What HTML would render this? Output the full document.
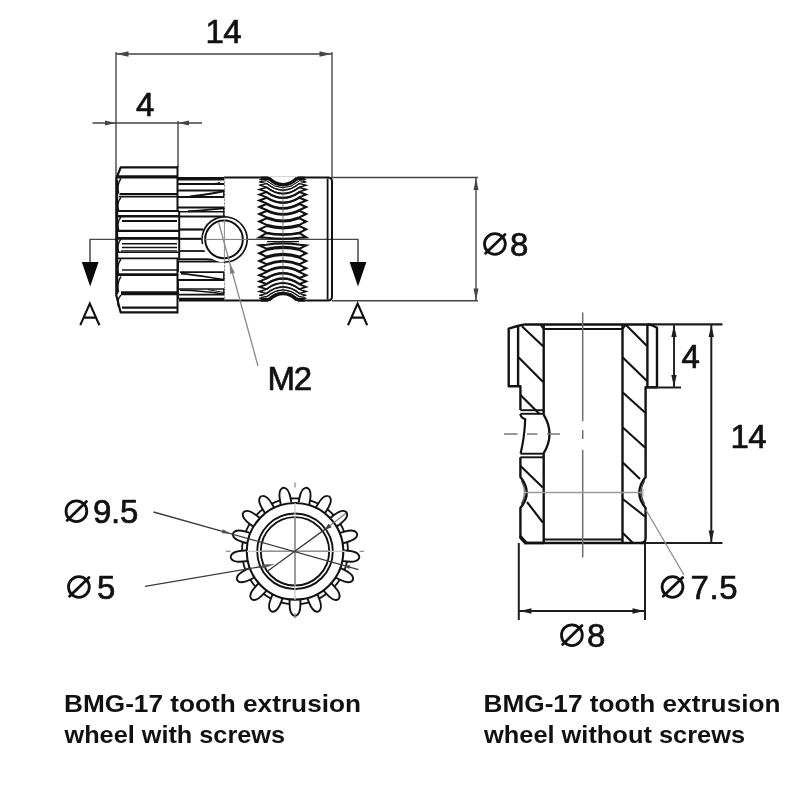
<!DOCTYPE html>
<html><head><meta charset="utf-8"><title>BMG-17 tooth extrusion wheel</title>
<style>
html,body{margin:0;padding:0;background:#fff;}
body{width:800px;height:800px;overflow:hidden;font-family:"Liberation Sans",sans-serif;}
svg{display:block;font-family:"Liberation Sans",sans-serif;filter:grayscale(1) blur(0.35px);}
</style></head><body>
<svg width="800" height="800" viewBox="0 0 800 800" stroke-linecap="butt" stroke-linejoin="round">
<rect width="800" height="800" fill="#ffffff"/>
<line x1="116.00" y1="52.00" x2="116.00" y2="178.00" stroke="#454545" stroke-width="1.4" />
<line x1="332.00" y1="52.00" x2="332.00" y2="178.00" stroke="#454545" stroke-width="1.4" />
<line x1="116.00" y1="54.00" x2="332.00" y2="54.00" stroke="#454545" stroke-width="1.4" />
<polygon points="116.50,54.00 128.50,51.20 128.50,56.80" fill="#454545"/>
<polygon points="331.50,54.00 319.50,56.80 319.50,51.20" fill="#454545"/>
<text x="205.5" y="42.5" font-size="33" font-weight="normal" letter-spacing="-0.5" text-anchor="start" fill="#111" stroke="#111" stroke-width="0.7" >14</text>
<line x1="178.00" y1="121.00" x2="178.00" y2="167.00" stroke="#454545" stroke-width="1.4" />
<line x1="92.50" y1="123.00" x2="202.00" y2="123.00" stroke="#454545" stroke-width="1.4" />
<polygon points="116.00,123.00 105.00,125.60 105.00,120.40" fill="#454545"/>
<polygon points="178.00,123.00 189.00,120.40 189.00,125.60" fill="#454545"/>
<text x="136" y="116" font-size="33" font-weight="normal" letter-spacing="0" text-anchor="start" fill="#111" stroke="#111" stroke-width="0.7" >4</text>
<line x1="332.00" y1="177.60" x2="478.00" y2="177.60" stroke="#454545" stroke-width="1.5" />
<line x1="332.00" y1="300.80" x2="478.00" y2="300.80" stroke="#454545" stroke-width="1.5" />
<line x1="476.00" y1="177.60" x2="476.00" y2="300.80" stroke="#454545" stroke-width="1.4" />
<polygon points="476.00,178.00 478.50,190.00 473.50,190.00" fill="#454545"/>
<polygon points="476.00,300.50 473.50,288.50 478.50,288.50" fill="#454545"/>
<circle cx="494.90" cy="244.00" r="10.4" fill="none" stroke="#111" stroke-width="2.8"/>
<line x1="485.60" y1="253.20" x2="505.00" y2="234.40" stroke="#111" stroke-width="2.8" stroke-linecap="round"/>
<text x="510" y="255.8" font-size="33" font-weight="normal" letter-spacing="0" text-anchor="start" fill="#111" stroke="#111" stroke-width="0.7" >8</text>
<line x1="90.00" y1="239.40" x2="358.00" y2="239.40" stroke="#454545" stroke-width="1.2" />
<line x1="90.00" y1="239.00" x2="90.00" y2="263.00" stroke="#454545" stroke-width="1.5" />
<line x1="358.00" y1="239.00" x2="358.00" y2="263.00" stroke="#454545" stroke-width="1.5" />
<polygon points="81.8,262 98.6,262 90.2,286.5" fill="#0a0a0a"/>
<polygon points="349.6,262 366.4,262 358,286.5" fill="#0a0a0a"/>
<path d="M80.3,325.2 L89.8,303.6 L99.4,325.2 M83.7,317.6 L96,317.6" stroke="#111" stroke-width="2.1" fill="none" stroke-linejoin="miter"/>
<path d="M348,325.2 L357.6,303.6 L367.2,325.2 M351.4,317.6 L363.8,317.6" stroke="#111" stroke-width="2.1" fill="none" stroke-linejoin="miter"/>
<path d="M177.5,167.3 L120.7,167.3 L116.3,178.5 L116.3,295.2 L120.7,312.4 L177.5,312.4" stroke="#121212" stroke-width="2.2" fill="none" />
<line x1="117.60" y1="180.00" x2="117.60" y2="294.00" stroke="#121212" stroke-width="1.2" />
<line x1="117.00" y1="176.90" x2="177.50" y2="176.90" stroke="#121212" stroke-width="3.4" />
<line x1="119.50" y1="194.00" x2="177.50" y2="194.00" stroke="#121212" stroke-width="1.8" />
<line x1="119.00" y1="196.60" x2="177.50" y2="196.60" stroke="#121212" stroke-width="1.8" />
<line x1="117.00" y1="211.00" x2="179.20" y2="211.00" stroke="#121212" stroke-width="2.0" />
<line x1="117.00" y1="216.20" x2="179.20" y2="216.20" stroke="#121212" stroke-width="2.4" />
<line x1="122.00" y1="221.00" x2="177.00" y2="221.00" stroke="#121212" stroke-width="1.8" />
<line x1="117.00" y1="230.80" x2="179.20" y2="230.80" stroke="#121212" stroke-width="2.2" />
<line x1="117.00" y1="238.10" x2="179.20" y2="238.10" stroke="#121212" stroke-width="2.0" />
<line x1="122.00" y1="243.70" x2="177.00" y2="243.70" stroke="#121212" stroke-width="1.5" />
<line x1="122.00" y1="247.50" x2="177.00" y2="247.50" stroke="#121212" stroke-width="1.5" />
<line x1="121.00" y1="250.90" x2="177.00" y2="250.90" stroke="#121212" stroke-width="1.4" />
<line x1="117.00" y1="252.30" x2="179.20" y2="252.30" stroke="#121212" stroke-width="1.6" />
<line x1="117.00" y1="258.30" x2="179.20" y2="258.30" stroke="#121212" stroke-width="1.8" />
<line x1="122.00" y1="270.00" x2="177.00" y2="270.00" stroke="#121212" stroke-width="1.5" />
<line x1="117.50" y1="274.70" x2="178.00" y2="274.70" stroke="#121212" stroke-width="2.8" />
<line x1="121.00" y1="293.20" x2="177.50" y2="293.20" stroke="#121212" stroke-width="3.9" />
<line x1="122.00" y1="307.60" x2="177.00" y2="307.60" stroke="#121212" stroke-width="2.2" />
<path d="M121,178.5 Q116.5,184.5 118.6,193.5" stroke="#121212" stroke-width="1.4" fill="none" />
<path d="M121,197.5 Q116.5,202.7 118.6,210.5" stroke="#121212" stroke-width="1.4" fill="none" />
<path d="M121,217 Q116.5,222.2 118.6,230" stroke="#121212" stroke-width="1.4" fill="none" />
<path d="M121,239 Q116.5,244.2 118.6,252" stroke="#121212" stroke-width="1.4" fill="none" />
<path d="M121,259 Q116.5,265.0 118.6,274" stroke="#121212" stroke-width="1.4" fill="none" />
<path d="M121,276.5 Q116.5,282.7 118.6,292" stroke="#121212" stroke-width="1.4" fill="none" />
<path d="M121,295 Q116.5,299.8 118.6,307" stroke="#121212" stroke-width="1.4" fill="none" />
<line x1="177.50" y1="166.20" x2="177.50" y2="211.00" stroke="#121212" stroke-width="2.0" />
<line x1="179.20" y1="211.00" x2="179.20" y2="258.30" stroke="#121212" stroke-width="2.0" />
<line x1="177.50" y1="258.30" x2="177.50" y2="313.40" stroke="#121212" stroke-width="2.0" />
<line x1="178.00" y1="178.80" x2="224.30" y2="178.80" stroke="#121212" stroke-width="3.5" />
<line x1="179.00" y1="299.60" x2="224.30" y2="299.60" stroke="#121212" stroke-width="3.8" />
<line x1="178.00" y1="184.00" x2="224.30" y2="184.00" stroke="#121212" stroke-width="2.0" />
<line x1="178.00" y1="190.50" x2="224.30" y2="190.50" stroke="#121212" stroke-width="2.0" />
<line x1="178.00" y1="197.00" x2="224.30" y2="197.00" stroke="#121212" stroke-width="2.0" />
<line x1="178.00" y1="207.50" x2="224.30" y2="207.50" stroke="#121212" stroke-width="2.0" />
<line x1="180.00" y1="211.70" x2="224.30" y2="211.70" stroke="#121212" stroke-width="1.6" />
<line x1="180.00" y1="216.50" x2="224.30" y2="216.50" stroke="#121212" stroke-width="2.0" />
<line x1="180.00" y1="229.50" x2="203.50" y2="229.50" stroke="#121212" stroke-width="2.2" />
<line x1="180.00" y1="238.60" x2="202.00" y2="238.60" stroke="#121212" stroke-width="1.6" />
<line x1="180.00" y1="251.00" x2="206.50" y2="251.00" stroke="#121212" stroke-width="1.8" />
<line x1="178.00" y1="261.60" x2="224.30" y2="261.60" stroke="#121212" stroke-width="1.8" />
<line x1="180.00" y1="272.20" x2="224.30" y2="272.20" stroke="#121212" stroke-width="1.8" />
<line x1="178.00" y1="280.00" x2="224.30" y2="280.00" stroke="#121212" stroke-width="1.8" />
<line x1="179.00" y1="289.00" x2="224.30" y2="289.00" stroke="#121212" stroke-width="1.6" />
<line x1="179.00" y1="294.60" x2="224.30" y2="294.60" stroke="#121212" stroke-width="1.6" />
<path d="M224.3,191.3 C214,193 205,195.5 190,196.4" stroke="#121212" stroke-width="2.0" fill="none" />
<path d="M218.3,182.2 Q223.3,183 212.3,183.6" stroke="#121212" stroke-width="1.0" fill="none" />
<path d="M224.3,208.3 C212,209.5 203,210.6 188,211.2" stroke="#121212" stroke-width="1.9" fill="none" />
<path d="M178,259.2 L206,259.3 Q216,259.6 224.3,261.6" stroke="#121212" stroke-width="1.9" fill="none" />
<path d="M181,273.6 C198,275 212,278 224.3,279.6" stroke="#121212" stroke-width="1.6" fill="none" />
<path d="M180,290.2 C198,290.4 212,292 224.3,294.2" stroke="#121212" stroke-width="1.4" fill="none" />
<path d="M208,289.6 L224.3,292.6" stroke="#121212" stroke-width="1.0" fill="none" />
<line x1="224.00" y1="190.50" x2="224.00" y2="197.00" stroke="#121212" stroke-width="1.8" />
<line x1="224.00" y1="207.50" x2="224.00" y2="216.50" stroke="#121212" stroke-width="1.8" />
<line x1="224.00" y1="272.20" x2="224.00" y2="280.00" stroke="#121212" stroke-width="1.8" />
<line x1="224.00" y1="289.00" x2="224.00" y2="294.60" stroke="#121212" stroke-width="1.8" />
<line x1="178.00" y1="261.00" x2="178.00" y2="272.00" stroke="#121212" stroke-width="1.8" />
<line x1="178.00" y1="280.00" x2="178.00" y2="299.00" stroke="#121212" stroke-width="1.8" />
<path d="M224,177.6 L328,177.6 Q332,177.6 332,181.6 L332,296.6 Q332,300.6 328,300.6 L224,300.6" stroke="#121212" stroke-width="2.0" fill="none" />
<line x1="327.60" y1="178.60" x2="327.60" y2="299.60" stroke="#121212" stroke-width="1.8" />
<line x1="224.60" y1="177.60" x2="224.60" y2="300.60" stroke="#8a8a8a" stroke-width="1.0" stroke-dasharray="2.5 1"/>
<rect x="260.8" y="176.6" width="43.89999999999998" height="3.6" fill="#121212"/>
<rect x="260.8" y="298.0" width="43.89999999999998" height="3.6" fill="#121212"/>
<polygon points="258.70,179.60 262.30,178.76 262.30,180.44" fill="#121212"/>
<polygon points="306.80,179.60 303.20,178.76 303.20,180.44" fill="#121212"/>
<path d="M259.3,179.60 L266.5,178.89 Q283,193.40 299.5,178.89 L306.2,179.60 L299.5,180.56 Q283,194.72 266.5,180.56 Z" stroke="#121212" stroke-width="0.62" fill="none" stroke-linejoin="miter"/>
<polygon points="258.70,181.93 262.30,180.83 262.30,183.03" fill="#121212"/>
<polygon points="306.80,181.93 303.20,180.83 303.20,183.03" fill="#121212"/>
<path d="M259.3,181.93 L266.5,180.75 Q283,194.87 299.5,180.75 L306.2,181.93 L299.5,183.35 Q283,196.92 266.5,183.35 Z" stroke="#121212" stroke-width="0.96" fill="none" stroke-linejoin="miter"/>
<polygon points="258.70,185.24 262.30,184.14 262.30,186.34" fill="#121212"/>
<polygon points="306.80,185.24 303.20,184.14 303.20,186.34" fill="#121212"/>
<path d="M259.3,185.24 L266.5,183.61 Q283,197.13 299.5,183.61 L306.2,185.24 L299.5,187.09 Q283,199.88 266.5,187.09 Z" stroke="#121212" stroke-width="1.29" fill="none" stroke-linejoin="miter"/>
<polygon points="258.70,189.48 262.30,188.38 262.30,190.58" fill="#121212"/>
<polygon points="306.80,189.48 303.20,188.38 303.20,190.58" fill="#121212"/>
<path d="M259.3,189.48 L266.5,187.43 Q283,200.15 299.5,187.43 L306.2,189.48 L299.5,191.73 Q283,203.54 266.5,191.73 Z" stroke="#121212" stroke-width="1.59" fill="none" stroke-linejoin="miter"/>
<polygon points="258.70,194.57 262.30,193.47 262.30,195.67" fill="#121212"/>
<polygon points="306.80,194.57 303.20,193.47 303.20,195.67" fill="#121212"/>
<path d="M259.3,194.57 L266.5,192.14 Q283,203.86 299.5,192.14 L306.2,194.57 L299.5,197.19 Q283,207.85 266.5,197.19 Z" stroke="#121212" stroke-width="1.87" fill="none" stroke-linejoin="miter"/>
<polygon points="258.70,200.43 262.30,199.33 262.30,201.53" fill="#121212"/>
<polygon points="306.80,200.43 303.20,199.33 303.20,201.53" fill="#121212"/>
<path d="M259.3,200.43 L266.5,197.66 Q283,208.23 299.5,197.66 L306.2,200.43 L299.5,203.36 Q283,212.73 266.5,203.36 Z" stroke="#121212" stroke-width="2.1" fill="none" stroke-linejoin="miter"/>
<polygon points="258.70,206.95 262.30,205.85 262.30,208.05" fill="#121212"/>
<polygon points="306.80,206.95 303.20,205.85 303.20,208.05" fill="#121212"/>
<path d="M259.3,206.95 L266.5,204.00 Q283,213.23 299.5,204.00 L306.2,206.95 L299.5,210.05 Q283,218.01 266.5,210.05 Z" stroke="#121212" stroke-width="2.1" fill="none" stroke-linejoin="miter"/>
<polygon points="258.70,214.04 262.30,212.94 262.30,215.14" fill="#121212"/>
<polygon points="306.80,214.04 303.20,212.94 303.20,215.14" fill="#121212"/>
<path d="M259.3,214.04 L266.5,210.92 Q283,218.70 299.5,210.92 L306.2,214.04 L299.5,217.26 Q283,223.71 266.5,217.26 Z" stroke="#121212" stroke-width="2.1" fill="none" stroke-linejoin="miter"/>
<polygon points="258.70,221.55 262.30,220.45 262.30,222.65" fill="#121212"/>
<polygon points="306.80,221.55 303.20,220.45 303.20,222.65" fill="#121212"/>
<path d="M259.3,221.55 L266.5,218.31 Q283,224.54 299.5,218.31 L306.2,221.55 L299.5,224.87 Q283,229.72 266.5,224.87 Z" stroke="#121212" stroke-width="2.1" fill="none" stroke-linejoin="miter"/>
<polygon points="258.70,229.37 262.30,228.27 262.30,230.47" fill="#121212"/>
<polygon points="306.80,229.37 303.20,228.27 303.20,230.47" fill="#121212"/>
<path d="M259.3,229.37 L266.5,226.05 Q283,230.65 299.5,226.05 L306.2,229.37 L299.5,232.74 Q283,235.94 266.5,232.74 Z" stroke="#121212" stroke-width="2.1" fill="none" stroke-linejoin="miter"/>
<polygon points="258.70,237.36 262.30,236.26 262.30,238.46" fill="#121212"/>
<polygon points="306.80,237.36 303.20,236.26 303.20,238.46" fill="#121212"/>
<path d="M259.3,237.36 L266.5,233.20 Q283,236.30 299.5,233.20 L306.2,237.36 L299.5,237.70 Q283,239.86 266.5,237.70 Z" stroke="#121212" stroke-width="2.1" fill="none" stroke-linejoin="miter"/>
<polygon points="258.70,245.39 262.30,244.29 262.30,246.49" fill="#121212"/>
<polygon points="306.80,245.39 303.20,244.29 303.20,246.49" fill="#121212"/>
<path d="M259.3,245.39 L266.5,244.80 Q283,241.87 299.5,244.80 L306.2,245.39 L299.5,248.75 Q283,244.98 266.5,248.75 Z" stroke="#121212" stroke-width="2.1" fill="none" stroke-linejoin="miter"/>
<polygon points="258.70,253.32 262.30,252.22 262.30,254.42" fill="#121212"/>
<polygon points="306.80,253.32 303.20,252.22 303.20,254.42" fill="#121212"/>
<path d="M259.3,253.32 L266.5,249.97 Q283,245.95 299.5,249.97 L306.2,253.32 L299.5,256.61 Q283,251.19 266.5,256.61 Z" stroke="#121212" stroke-width="2.1" fill="none" stroke-linejoin="miter"/>
<polygon points="258.70,261.00 262.30,259.90 262.30,262.10" fill="#121212"/>
<polygon points="306.80,261.00 303.20,259.90 303.20,262.10" fill="#121212"/>
<path d="M259.3,261.00 L266.5,257.73 Q283,252.08 299.5,257.73 L306.2,261.00 L299.5,264.19 Q283,257.18 266.5,264.19 Z" stroke="#121212" stroke-width="2.1" fill="none" stroke-linejoin="miter"/>
<polygon points="258.70,268.32 262.30,267.22 262.30,269.42" fill="#121212"/>
<polygon points="306.80,268.32 303.20,267.22 303.20,269.42" fill="#121212"/>
<path d="M259.3,268.32 L266.5,265.15 Q283,257.95 299.5,265.15 L306.2,268.32 L299.5,271.36 Q283,262.85 266.5,271.36 Z" stroke="#121212" stroke-width="2.1" fill="none" stroke-linejoin="miter"/>
<polygon points="258.70,275.14 262.30,274.04 262.30,276.24" fill="#121212"/>
<polygon points="306.80,275.14 303.20,274.04 303.20,276.24" fill="#121212"/>
<path d="M259.3,275.14 L266.5,272.12 Q283,263.45 299.5,272.12 L306.2,275.14 L299.5,278.01 Q283,268.10 266.5,278.01 Z" stroke="#121212" stroke-width="2.1" fill="none" stroke-linejoin="miter"/>
<polygon points="258.70,281.35 262.30,280.25 262.30,282.45" fill="#121212"/>
<polygon points="306.80,281.35 303.20,280.25 303.20,282.45" fill="#121212"/>
<path d="M259.3,281.35 L266.5,278.57 Q283,268.54 299.5,278.57 L306.2,281.35 L299.5,283.96 Q283,272.80 266.5,283.96 Z" stroke="#121212" stroke-width="1.99" fill="none" stroke-linejoin="miter"/>
<polygon points="258.70,286.85 262.30,285.75 262.30,287.95" fill="#121212"/>
<polygon points="306.80,286.85 303.20,285.75 303.20,287.95" fill="#121212"/>
<path d="M259.3,286.85 L266.5,284.40 Q283,273.15 299.5,284.40 L306.2,286.85 L299.5,289.09 Q283,276.85 266.5,289.09 Z" stroke="#121212" stroke-width="1.73" fill="none" stroke-linejoin="miter"/>
<polygon points="258.70,291.53 262.30,290.43 262.30,292.63" fill="#121212"/>
<polygon points="306.80,291.53 303.20,290.43 303.20,292.63" fill="#121212"/>
<path d="M259.3,291.53 L266.5,289.46 Q283,277.15 299.5,289.46 L306.2,291.53 L299.5,293.37 Q283,280.23 266.5,293.37 Z" stroke="#121212" stroke-width="1.44" fill="none" stroke-linejoin="miter"/>
<polygon points="258.70,295.32 262.30,294.22 262.30,296.42" fill="#121212"/>
<polygon points="306.80,295.32 303.20,294.22 303.20,296.42" fill="#121212"/>
<path d="M259.3,295.32 L266.5,293.67 Q283,280.47 299.5,293.67 L306.2,295.32 L299.5,296.72 Q283,282.88 266.5,296.72 Z" stroke="#121212" stroke-width="1.13" fill="none" stroke-linejoin="miter"/>
<polygon points="258.70,298.15 262.30,297.07 262.30,299.22" fill="#121212"/>
<polygon points="306.80,298.15 303.20,297.07 303.20,299.22" fill="#121212"/>
<path d="M259.3,298.15 L266.5,296.95 Q283,283.06 299.5,296.95 L306.2,298.15 L299.5,299.10 Q283,284.76 266.5,299.10 Z" stroke="#121212" stroke-width="0.79" fill="none" stroke-linejoin="miter"/>
<line x1="267.00" y1="241.60" x2="299.00" y2="241.60" stroke="#121212" stroke-width="1.3" />
<path d="M267.5,176.2 L270,177.6 Q283,189.1 296,177.6 L298.5,176.2 Z" stroke="none" stroke-width="0" fill="#fff" />
<path d="M269,178.2 Q283,191.1 297,178.2" stroke="#121212" stroke-width="3.2" fill="none" />
<path d="M267.5,302.0 L270,300.6 Q283,289.1 296,300.6 L298.5,302.0 Z" stroke="none" stroke-width="0" fill="#fff" />
<path d="M269,300.0 Q283,287.1 297,300.0" stroke="#121212" stroke-width="3.2" fill="none" />
<line x1="283.00" y1="185.60" x2="283.00" y2="292.60" stroke="#555" stroke-width="0.8" />
<circle cx="224.6" cy="239.4" r="23" fill="#fff" stroke="none"/>
<path d="M202.34,235.48 A22.6,22.6 0 1 1 223.81,261.99" stroke="#121212" stroke-width="1.7" fill="none" />
<path d="M202.34,235.48 A22.6,22.6 0 0 0 202.49,244.10" stroke="#121212" stroke-width="1.5" fill="none" />
<circle cx="224" cy="239.4" r="18.8" fill="#fff" stroke="#121212" stroke-width="2.0"/>
<line x1="205.00" y1="239.40" x2="248.00" y2="239.40" stroke="#777" stroke-width="1.0" />
<line x1="224.40" y1="220.00" x2="224.40" y2="262.00" stroke="#8a8a8a" stroke-width="1.0" />
<line x1="218.50" y1="222.00" x2="258.00" y2="366.00" stroke="#8a8a8a" stroke-width="1.3" />
<polygon points="229.70,263.30 234.88,272.77 230.06,274.09" fill="#808080"/>
<text x="267.5" y="389.6" font-size="33" font-weight="normal" letter-spacing="-1.2" text-anchor="start" fill="#111" stroke="#111" stroke-width="0.7" >M2</text>
<line x1="525.00" y1="324.40" x2="648.00" y2="324.40" stroke="#121212" stroke-width="2.5" />
<line x1="648.00" y1="324.40" x2="722.50" y2="324.40" stroke="#1e1e1e" stroke-width="2.1" />
<line x1="645.00" y1="543.00" x2="722.50" y2="543.00" stroke="#1e1e1e" stroke-width="2.1" />
<path d="M525,324.4 L517.5,326 L508.7,328.6 L508.7,386.3 L520.4,386.3 L520.4,410" stroke="#121212" stroke-width="2.4" fill="none" />
<line x1="518.10" y1="326.00" x2="518.10" y2="386.30" stroke="#121212" stroke-width="2.4" />
<path d="M520.4,457.3 L520.4,477 Q533,492.5 520.4,508 L520.4,538 L525,543 L543.5,543" stroke="#121212" stroke-width="2.4" fill="none" />
<path d="M521.3,480.5 Q528.2,492.5 521.3,504.5" stroke="#444" stroke-width="1.3" fill="none" />
<line x1="543.70" y1="324.40" x2="543.70" y2="414.00" stroke="#121212" stroke-width="2.4" />
<line x1="543.70" y1="453.50" x2="543.70" y2="543.00" stroke="#121212" stroke-width="2.4" />
<line x1="622.50" y1="324.40" x2="622.50" y2="543.00" stroke="#121212" stroke-width="2.4" />
<path d="M540.2,324.4 L543.4,328.8" stroke="#121212" stroke-width="1.8" fill="none" />
<path d="M626,324.4 L622.8,328.8" stroke="#121212" stroke-width="1.8" fill="none" />
<line x1="543.70" y1="329.10" x2="622.50" y2="329.10" stroke="#121212" stroke-width="2.0" />
<line x1="543.70" y1="539.40" x2="622.50" y2="539.40" stroke="#121212" stroke-width="2.0" />
<line x1="524.00" y1="543.00" x2="645.00" y2="543.00" stroke="#121212" stroke-width="2.5" />
<line x1="520.40" y1="410.20" x2="544.00" y2="410.20" stroke="#121212" stroke-width="1.9" />
<line x1="520.40" y1="413.80" x2="544.00" y2="413.80" stroke="#121212" stroke-width="1.9" />
<line x1="520.40" y1="453.70" x2="544.00" y2="453.70" stroke="#121212" stroke-width="1.9" />
<line x1="520.40" y1="457.30" x2="544.00" y2="457.30" stroke="#121212" stroke-width="1.9" />
<path d="M520.4,414 Q520.8,418 525.2,419 Q524.6,437 520.6,453.5" stroke="#121212" stroke-width="2.2" fill="none" />
<path d="M543.5,414.3 Q555.5,434 543.5,453.5" stroke="#121212" stroke-width="2.3" fill="none" />
<path d="M648,324.4 L652,325.2 L657,327.8 L657,387.3 L645.6,387.3 L645.6,477 Q633,492.5 645.6,508 L645.6,538 Q645.6,543 641,543" stroke="#121212" stroke-width="2.4" fill="none" />
<line x1="647.40" y1="325.00" x2="647.40" y2="387.30" stroke="#121212" stroke-width="2.4" />
<path d="M644.7,480.5 Q637.8,492.5 644.7,504.5" stroke="#444" stroke-width="1.3" fill="none" />
<line x1="646.00" y1="387.40" x2="681.00" y2="387.40" stroke="#1e1e1e" stroke-width="2.0" />
<line x1="521.90" y1="326.20" x2="543.10" y2="346.20" stroke="#121212" stroke-width="2.1" />
<line x1="518.70" y1="357.50" x2="543.10" y2="381.90" stroke="#121212" stroke-width="2.1" />
<line x1="520.50" y1="395.00" x2="539.50" y2="414.00" stroke="#121212" stroke-width="2.1" />
<line x1="520.50" y1="466.00" x2="542.80" y2="487.50" stroke="#121212" stroke-width="2.1" />
<line x1="527.00" y1="502.00" x2="542.80" y2="522.50" stroke="#121212" stroke-width="2.1" />
<line x1="520.00" y1="535.50" x2="526.50" y2="542.50" stroke="#121212" stroke-width="2.1" />
<line x1="626.00" y1="325.00" x2="647.00" y2="346.00" stroke="#121212" stroke-width="2.1" />
<line x1="622.80" y1="357.50" x2="647.00" y2="381.00" stroke="#121212" stroke-width="2.1" />
<line x1="622.80" y1="392.50" x2="645.00" y2="412.50" stroke="#121212" stroke-width="2.1" />
<line x1="622.80" y1="427.50" x2="645.00" y2="447.50" stroke="#121212" stroke-width="2.1" />
<line x1="622.80" y1="462.50" x2="640.00" y2="479.00" stroke="#121212" stroke-width="2.1" />
<line x1="622.80" y1="499.00" x2="645.00" y2="516.50" stroke="#121212" stroke-width="2.1" />
<line x1="622.80" y1="533.00" x2="632.50" y2="542.50" stroke="#121212" stroke-width="2.1" />
<line x1="582.70" y1="312.50" x2="582.70" y2="557.50" stroke="#707070" stroke-width="1.5" stroke-dasharray="108.5 9 9 11 200"/>
<line x1="504.00" y1="434.00" x2="560.00" y2="434.00" stroke="#777" stroke-width="1.6" stroke-dasharray="13.5 9.5 10.5 9.5 13 100"/>
<line x1="524.00" y1="492.50" x2="643.00" y2="492.50" stroke="#9a9a9a" stroke-width="1.5" />
<line x1="524.00" y1="488.50" x2="524.00" y2="496.50" stroke="#bbb" stroke-width="1.2" />
<line x1="643.00" y1="488.50" x2="643.00" y2="496.50" stroke="#bbb" stroke-width="1.2" />
<line x1="646.00" y1="510.00" x2="684.00" y2="575.00" stroke="#8c8c8c" stroke-width="1.3" />
<circle cx="672.50" cy="587.00" r="10.4" fill="none" stroke="#111" stroke-width="2.8"/>
<line x1="663.20" y1="596.20" x2="682.60" y2="577.40" stroke="#111" stroke-width="2.8" stroke-linecap="round"/>
<text x="690.6" y="598.8" font-size="33" font-weight="normal" letter-spacing="0.6" text-anchor="start" fill="#111" stroke="#111" stroke-width="0.7" >7.5</text>
<line x1="674.00" y1="324.40" x2="674.00" y2="387.00" stroke="#1e1e1e" stroke-width="1.9" />
<polygon points="674.00,324.90 676.70,336.90 671.30,336.90" fill="#1e1e1e"/>
<polygon points="674.00,387.00 671.30,375.00 676.70,375.00" fill="#1e1e1e"/>
<text x="681.5" y="368" font-size="33" font-weight="normal" letter-spacing="0" text-anchor="start" fill="#111" stroke="#111" stroke-width="0.7" >4</text>
<line x1="711.30" y1="324.40" x2="711.30" y2="543.00" stroke="#1e1e1e" stroke-width="2.0" />
<polygon points="711.30,324.90 714.00,336.90 708.60,336.90" fill="#1e1e1e"/>
<polygon points="711.30,542.50 708.60,530.50 714.00,530.50" fill="#1e1e1e"/>
<text x="730.5" y="448" font-size="33" font-weight="normal" letter-spacing="-0.5" text-anchor="start" fill="#111" stroke="#111" stroke-width="0.7" >14</text>
<line x1="518.80" y1="543.00" x2="518.80" y2="620.00" stroke="#1e1e1e" stroke-width="2.0" />
<line x1="645.00" y1="543.00" x2="645.00" y2="620.00" stroke="#1e1e1e" stroke-width="2.0" />
<line x1="519.00" y1="611.00" x2="645.00" y2="611.00" stroke="#1e1e1e" stroke-width="1.9" />
<polygon points="519.50,611.00 531.50,608.30 531.50,613.70" fill="#1e1e1e"/>
<polygon points="644.50,611.00 632.50,613.70 632.50,608.30" fill="#1e1e1e"/>
<circle cx="571.90" cy="635.20" r="10.4" fill="none" stroke="#111" stroke-width="2.8"/>
<line x1="562.60" y1="644.40" x2="582.00" y2="625.60" stroke="#111" stroke-width="2.8" stroke-linecap="round"/>
<text x="587" y="647" font-size="33" font-weight="normal" letter-spacing="0" text-anchor="start" fill="#111" stroke="#111" stroke-width="0.7" >8</text>
<g transform="translate(295,551.3) rotate(90.000)"><path d="M48.5,-5.4 L53,-5.4 C59.3,-5.4 63,-4.0 64.2,-1.5 Q65,0 64.2,1.5 C63,4.0 59.3,5.4 53,5.4 L48.5,5.4" fill="#fff" stroke="#121212" stroke-width="1.9"/></g>
<path d="M289.74,604.04 A53.0,53.0 0 0 1 280.86,602.38" fill="none" stroke="#121212" stroke-width="1.8"/>
<g transform="translate(295,551.3) rotate(111.176)"><path d="M48.5,-5.4 L53,-5.4 C59.3,-5.4 63,-4.0 64.2,-1.5 Q65,0 64.2,1.5 C63,4.0 59.3,5.4 53,5.4 L48.5,5.4" fill="#fff" stroke="#121212" stroke-width="1.9"/></g>
<path d="M271.04,598.58 A53.0,53.0 0 0 1 263.36,593.82" fill="none" stroke="#121212" stroke-width="1.8"/>
<g transform="translate(295,551.3) rotate(132.353)"><path d="M48.5,-5.4 L53,-5.4 C59.3,-5.4 63,-4.0 64.2,-1.5 Q65,0 64.2,1.5 C63,4.0 59.3,5.4 53,5.4 L48.5,5.4" fill="#fff" stroke="#121212" stroke-width="1.9"/></g>
<path d="M255.58,586.73 A53.0,53.0 0 0 1 250.14,579.52" fill="none" stroke="#121212" stroke-width="1.8"/>
<g transform="translate(295,551.3) rotate(153.529)"><path d="M48.5,-5.4 L53,-5.4 C59.3,-5.4 63,-4.0 64.2,-1.5 Q65,0 64.2,1.5 C63,4.0 59.3,5.4 53,5.4 L48.5,5.4" fill="#fff" stroke="#121212" stroke-width="1.9"/></g>
<path d="M245.44,570.10 A53.0,53.0 0 0 1 242.97,561.41" fill="none" stroke="#121212" stroke-width="1.8"/>
<g transform="translate(295,551.3) rotate(174.706)"><path d="M48.5,-5.4 L53,-5.4 C59.3,-5.4 63,-4.0 64.2,-1.5 Q65,0 64.2,1.5 C63,4.0 59.3,5.4 53,5.4 L48.5,5.4" fill="#fff" stroke="#121212" stroke-width="1.9"/></g>
<path d="M242.00,550.92 A53.0,53.0 0 0 1 242.83,541.93" fill="none" stroke="#121212" stroke-width="1.8"/>
<g transform="translate(295,551.3) rotate(195.882)"><path d="M48.5,-5.4 L53,-5.4 C59.3,-5.4 63,-4.0 64.2,-1.5 Q65,0 64.2,1.5 C63,4.0 59.3,5.4 53,5.4 L48.5,5.4" fill="#fff" stroke="#121212" stroke-width="1.9"/></g>
<path d="M245.72,531.80 A53.0,53.0 0 0 1 249.74,523.72" fill="none" stroke="#121212" stroke-width="1.8"/>
<g transform="translate(295,551.3) rotate(217.059)"><path d="M48.5,-5.4 L53,-5.4 C59.3,-5.4 63,-4.0 64.2,-1.5 Q65,0 64.2,1.5 C63,4.0 59.3,5.4 53,5.4 L48.5,5.4" fill="#fff" stroke="#121212" stroke-width="1.9"/></g>
<path d="M256.09,515.32 A53.0,53.0 0 0 1 262.76,509.23" fill="none" stroke="#121212" stroke-width="1.8"/>
<g transform="translate(295,551.3) rotate(238.235)"><path d="M48.5,-5.4 L53,-5.4 C59.3,-5.4 63,-4.0 64.2,-1.5 Q65,0 64.2,1.5 C63,4.0 59.3,5.4 53,5.4 L48.5,5.4" fill="#fff" stroke="#121212" stroke-width="1.9"/></g>
<path d="M271.71,503.69 A53.0,53.0 0 0 1 280.14,500.43" fill="none" stroke="#121212" stroke-width="1.8"/>
<g transform="translate(295,551.3) rotate(259.412)"><path d="M48.5,-5.4 L53,-5.4 C59.3,-5.4 63,-4.0 64.2,-1.5 Q65,0 64.2,1.5 C63,4.0 59.3,5.4 53,5.4 L48.5,5.4" fill="#fff" stroke="#121212" stroke-width="1.9"/></g>
<path d="M290.48,498.49 A53.0,53.0 0 0 1 299.52,498.49" fill="none" stroke="#121212" stroke-width="1.8"/>
<g transform="translate(295,551.3) rotate(280.588)"><path d="M48.5,-5.4 L53,-5.4 C59.3,-5.4 63,-4.0 64.2,-1.5 Q65,0 64.2,1.5 C63,4.0 59.3,5.4 53,5.4 L48.5,5.4" fill="#fff" stroke="#121212" stroke-width="1.9"/></g>
<path d="M309.86,500.43 A53.0,53.0 0 0 1 318.29,503.69" fill="none" stroke="#121212" stroke-width="1.8"/>
<g transform="translate(295,551.3) rotate(301.765)"><path d="M48.5,-5.4 L53,-5.4 C59.3,-5.4 63,-4.0 64.2,-1.5 Q65,0 64.2,1.5 C63,4.0 59.3,5.4 53,5.4 L48.5,5.4" fill="#fff" stroke="#121212" stroke-width="1.9"/></g>
<path d="M327.24,509.23 A53.0,53.0 0 0 1 333.91,515.32" fill="none" stroke="#121212" stroke-width="1.8"/>
<g transform="translate(295,551.3) rotate(322.941)"><path d="M48.5,-5.4 L53,-5.4 C59.3,-5.4 63,-4.0 64.2,-1.5 Q65,0 64.2,1.5 C63,4.0 59.3,5.4 53,5.4 L48.5,5.4" fill="#fff" stroke="#121212" stroke-width="1.9"/></g>
<path d="M340.26,523.72 A53.0,53.0 0 0 1 344.28,531.80" fill="none" stroke="#121212" stroke-width="1.8"/>
<g transform="translate(295,551.3) rotate(344.118)"><path d="M48.5,-5.4 L53,-5.4 C59.3,-5.4 63,-4.0 64.2,-1.5 Q65,0 64.2,1.5 C63,4.0 59.3,5.4 53,5.4 L48.5,5.4" fill="#fff" stroke="#121212" stroke-width="1.9"/></g>
<path d="M347.17,541.93 A53.0,53.0 0 0 1 348.00,550.92" fill="none" stroke="#121212" stroke-width="1.8"/>
<g transform="translate(295,551.3) rotate(365.294)"><path d="M48.5,-5.4 L53,-5.4 C59.3,-5.4 63,-4.0 64.2,-1.5 Q65,0 64.2,1.5 C63,4.0 59.3,5.4 53,5.4 L48.5,5.4" fill="#fff" stroke="#121212" stroke-width="1.9"/></g>
<path d="M347.03,561.41 A53.0,53.0 0 0 1 344.56,570.10" fill="none" stroke="#121212" stroke-width="1.8"/>
<g transform="translate(295,551.3) rotate(386.471)"><path d="M48.5,-5.4 L53,-5.4 C59.3,-5.4 63,-4.0 64.2,-1.5 Q65,0 64.2,1.5 C63,4.0 59.3,5.4 53,5.4 L48.5,5.4" fill="#fff" stroke="#121212" stroke-width="1.9"/></g>
<path d="M339.86,579.52 A53.0,53.0 0 0 1 334.42,586.73" fill="none" stroke="#121212" stroke-width="1.8"/>
<g transform="translate(295,551.3) rotate(407.647)"><path d="M48.5,-5.4 L53,-5.4 C59.3,-5.4 63,-4.0 64.2,-1.5 Q65,0 64.2,1.5 C63,4.0 59.3,5.4 53,5.4 L48.5,5.4" fill="#fff" stroke="#121212" stroke-width="1.9"/></g>
<path d="M326.64,593.82 A53.0,53.0 0 0 1 318.96,598.58" fill="none" stroke="#121212" stroke-width="1.8"/>
<g transform="translate(295,551.3) rotate(428.824)"><path d="M48.5,-5.4 L53,-5.4 C59.3,-5.4 63,-4.0 64.2,-1.5 Q65,0 64.2,1.5 C63,4.0 59.3,5.4 53,5.4 L48.5,5.4" fill="#fff" stroke="#121212" stroke-width="1.9"/></g>
<path d="M309.14,602.38 A53.0,53.0 0 0 1 300.26,604.04" fill="none" stroke="#121212" stroke-width="1.8"/>
<circle cx="295" cy="551.3" r="48.3" fill="#fff" stroke="#121212" stroke-width="2.1"/>
<circle cx="295" cy="551.3" r="37.8" fill="none" stroke="#121212" stroke-width="1.9"/>
<circle cx="295" cy="551.3" r="34.2" fill="none" stroke="#121212" stroke-width="1.9"/>
<line x1="295.00" y1="503.00" x2="295.00" y2="600.00" stroke="#c4c4c4" stroke-width="1.2" />
<line x1="295.00" y1="517.30" x2="295.00" y2="585.30" stroke="#808080" stroke-width="1.4" />
<line x1="295.00" y1="482.50" x2="295.00" y2="487.50" stroke="#888" stroke-width="1.2" />
<line x1="295.00" y1="613.00" x2="295.00" y2="618.50" stroke="#888" stroke-width="1.2" />
<line x1="247.00" y1="551.30" x2="346.00" y2="551.30" stroke="#c8c8c8" stroke-width="1.2" />
<line x1="261.00" y1="551.30" x2="329.00" y2="551.30" stroke="#909090" stroke-width="1.4" />
<line x1="226.00" y1="551.30" x2="230.50" y2="551.30" stroke="#888" stroke-width="1.2" />
<line x1="359.50" y1="551.30" x2="364.00" y2="551.30" stroke="#888" stroke-width="1.2" />
<line x1="153.50" y1="512.00" x2="358.50" y2="569.60" stroke="#3c3c3c" stroke-width="1.3" />
<polygon points="231.00,533.70 221.79,533.19 222.88,529.34" fill="#555"/>
<line x1="145.00" y1="586.30" x2="262.00" y2="566.50" stroke="#3c3c3c" stroke-width="1.3" />
<polygon points="275.00,564.30 262.52,568.44 261.85,564.50" fill="#555"/>
<line x1="266.70" y1="571.80" x2="329.00" y2="526.40" stroke="#3c3c3c" stroke-width="1.3" />
<line x1="329.00" y1="526.40" x2="346.00" y2="513.20" stroke="#777" stroke-width="1.1" />
<polygon points="324.50,529.70 328.70,523.61 331.55,527.47" fill="#444"/>
<polygon points="343.00,565.20 350.28,565.17 349.20,569.02" fill="#444"/>
<circle cx="76.40" cy="511.20" r="10.4" fill="none" stroke="#111" stroke-width="2.8"/>
<line x1="67.10" y1="520.40" x2="86.50" y2="501.60" stroke="#111" stroke-width="2.8" stroke-linecap="round"/>
<text x="93.0" y="523" font-size="33" font-weight="normal" letter-spacing="-0.3" text-anchor="start" fill="#111" stroke="#111" stroke-width="0.7" >9.5</text>
<circle cx="78.90" cy="587.00" r="10.4" fill="none" stroke="#111" stroke-width="2.8"/>
<line x1="69.60" y1="596.20" x2="89.00" y2="577.40" stroke="#111" stroke-width="2.8" stroke-linecap="round"/>
<text x="97" y="598.8" font-size="33" font-weight="normal" letter-spacing="0" text-anchor="start" fill="#111" stroke="#111" stroke-width="0.7" >5</text>
<text x="64" y="712" font-size="23.2" font-weight="bold" fill="#111" textLength="297" lengthAdjust="spacingAndGlyphs">BMG-17 tooth extrusion</text>
<text x="64.5" y="743" font-size="23.2" font-weight="bold" fill="#111" textLength="220.5" lengthAdjust="spacingAndGlyphs">wheel with screws</text>
<text x="483.5" y="712" font-size="23.2" font-weight="bold" fill="#111" textLength="297" lengthAdjust="spacingAndGlyphs">BMG-17 tooth extrusion</text>
<text x="484" y="743" font-size="23.2" font-weight="bold" fill="#111" textLength="261" lengthAdjust="spacingAndGlyphs">wheel without screws</text>
</svg>
</body></html>
